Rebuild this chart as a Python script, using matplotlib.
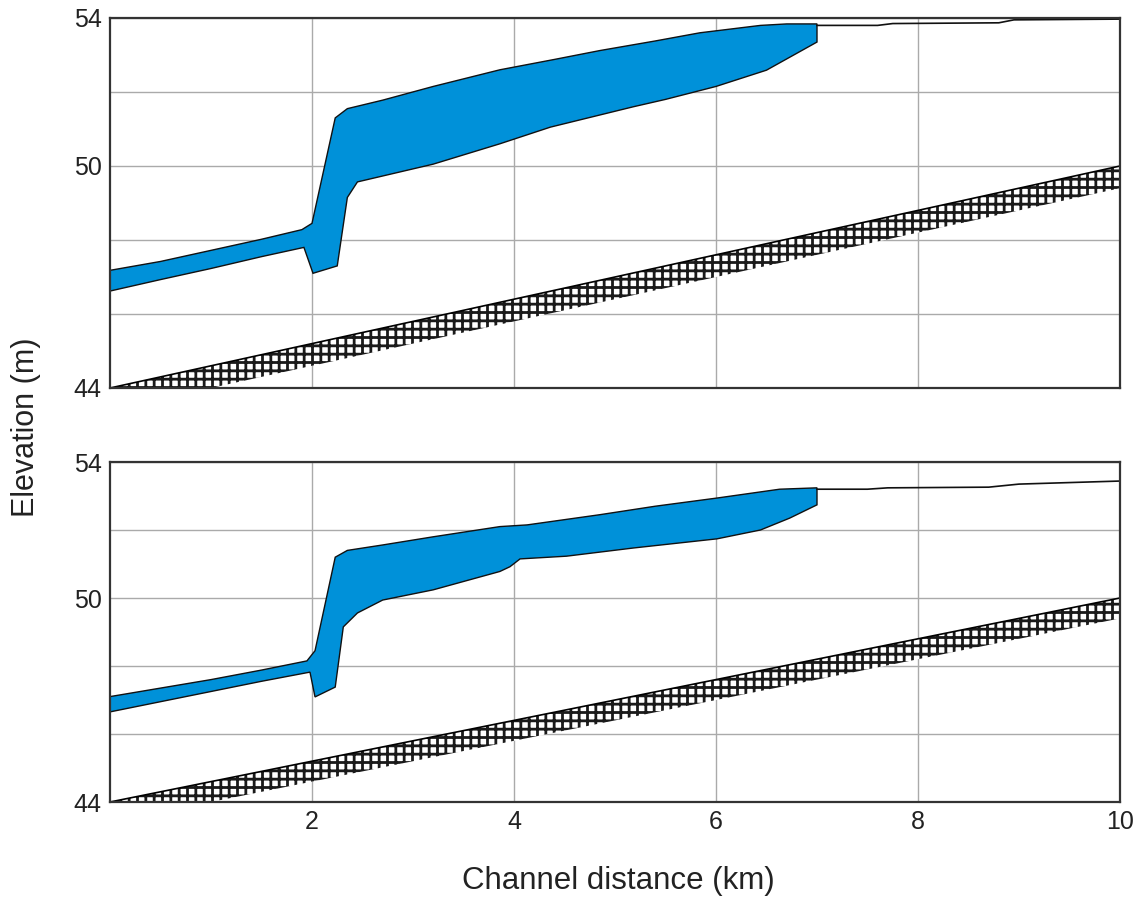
import matplotlib
matplotlib.use("Agg")
import matplotlib.pyplot as plt
import numpy as np

plt.rcParams['font.family'] = ['Liberation Sans', 'DejaVu Sans']
plt.rcParams['hatch.linewidth'] = 2.0

# ---- top panel: water surface envelope (km, m)
top_up_x = [0.0, 0.5, 1.0, 1.5, 1.9, 2.0, 2.23, 2.35, 2.7, 3.2, 3.86, 4.4, 4.85, 5.4, 5.84, 6.2, 6.44, 6.7, 7.0]
top_up_y = [47.18, 47.42, 47.72, 48.02, 48.28, 48.45, 51.30, 51.55, 51.78, 52.15, 52.60, 52.88, 53.12, 53.38, 53.60, 53.72, 53.80, 53.84, 53.84]
top_lo_x = [0.0, 0.5, 1.0, 1.5, 1.92, 2.01, 2.25, 2.35, 2.45, 3.2, 3.86, 4.36, 5.18, 5.5, 6.0, 6.5, 7.0]
top_lo_y = [46.62, 46.93, 47.23, 47.55, 47.80, 47.10, 47.30, 49.15, 49.57, 50.05, 50.60, 51.05, 51.60, 51.80, 52.15, 52.59, 53.35]
top_line_x = [7.0, 7.6, 7.75, 8.8, 8.95, 10.0]
top_line_y = [53.80, 53.80, 53.85, 53.87, 53.95, 53.97]

# ---- bottom panel
bot_up_x = [0.0, 0.5, 1.0, 1.5, 1.95, 2.03, 2.23, 2.35, 2.7, 3.2, 3.86, 4.13, 4.85, 5.4, 6.01, 6.63, 7.0]
bot_up_y = [47.10, 47.35, 47.60, 47.88, 48.15, 48.45, 51.20, 51.40, 51.56, 51.80, 52.10, 52.15, 52.45, 52.70, 52.94, 53.20, 53.24]
bot_lo_x = [0.0, 0.5, 1.0, 1.5, 1.98, 2.03, 2.23, 2.31, 2.45, 2.7, 3.2, 3.86, 3.96, 4.06, 4.52, 5.18, 6.01, 6.44, 6.73, 7.0]
bot_lo_y = [46.65, 46.95, 47.25, 47.55, 47.82, 47.09, 47.38, 49.15, 49.56, 49.94, 50.24, 50.78, 50.92, 51.15, 51.23, 51.47, 51.74, 52.00, 52.35, 52.74]
bot_line_x = [7.0, 7.5, 7.7, 8.7, 9.0, 10.0]
bot_line_y = [53.20, 53.20, 53.24, 53.26, 53.35, 53.44]

# ---- channel bed sediment wedge
sed_x = [0.0, 1.0, 10.0]
sed_top = [44.0, 44.6, 50.0]
sed_bot = [44.0, 44.0, 49.4]

blue = '#0091d9'

fig = plt.figure(figsize=(11.46, 9.05), dpi=100)
ax1 = fig.add_axes([110/1146, 1-388/905, 1010/1146, 370/905])
ax2 = fig.add_axes([110/1146, 1-802/905, 1010/1146, 340/905])

panels = [
    (ax1, top_up_x, top_up_y, top_lo_x, top_lo_y, top_line_x, top_line_y),
    (ax2, bot_up_x, bot_up_y, bot_lo_x, bot_lo_y, bot_line_x, bot_line_y),
]

for ax, ux, uy, lx, ly, wx, wy in panels:
    # sediment
    ax.fill_between(sed_x, sed_bot, sed_top, facecolor='white', edgecolor='#1a1a1a',
                    hatch='++', linewidth=0, zorder=2)
    ax.plot([sed_x[0], sed_x[-1]], [sed_top[0], sed_top[-1]], color='black', lw=1.2, zorder=3)
    # water envelope polygon
    px = list(ux) + list(lx[::-1])
    py = list(uy) + list(ly[::-1])
    ax.fill(px, py, facecolor=blue, edgecolor='#111111', linewidth=1.0, zorder=4)
    ax.plot(wx, wy, color='#111111', lw=1.2, zorder=4)

    ax.set_xlim(0, 10)
    ax.set_ylim(44, 54)
    ax.set_xticks([2, 4, 6, 8, 10])
    ax.set_yticks([44, 46, 48, 50, 52, 54])
    ax.set_yticklabels(['44', '', '', '50', '', '54'])
    ax.grid(True, color='#aaaaaa', lw=1.0, zorder=1)
    ax.set_axisbelow(True)
    ax.tick_params(length=0, labelsize=18, pad=6, colors='#222222')
    for s in ax.spines.values():
        s.set_color('#333333')
        s.set_linewidth(1.6)
        s.set_zorder(5)

ax1.set_xticklabels([])

fig.text(26/1146, 1-427/905, 'Elevation (m)', rotation=90, ha='center', va='center',
         fontsize=22, color='#222222')
fig.text(618/1146, 1-881/905, 'Channel distance (km)', ha='center', va='center',
         fontsize=22.5, color='#222222')

fig.savefig('out.png', dpi=100)
